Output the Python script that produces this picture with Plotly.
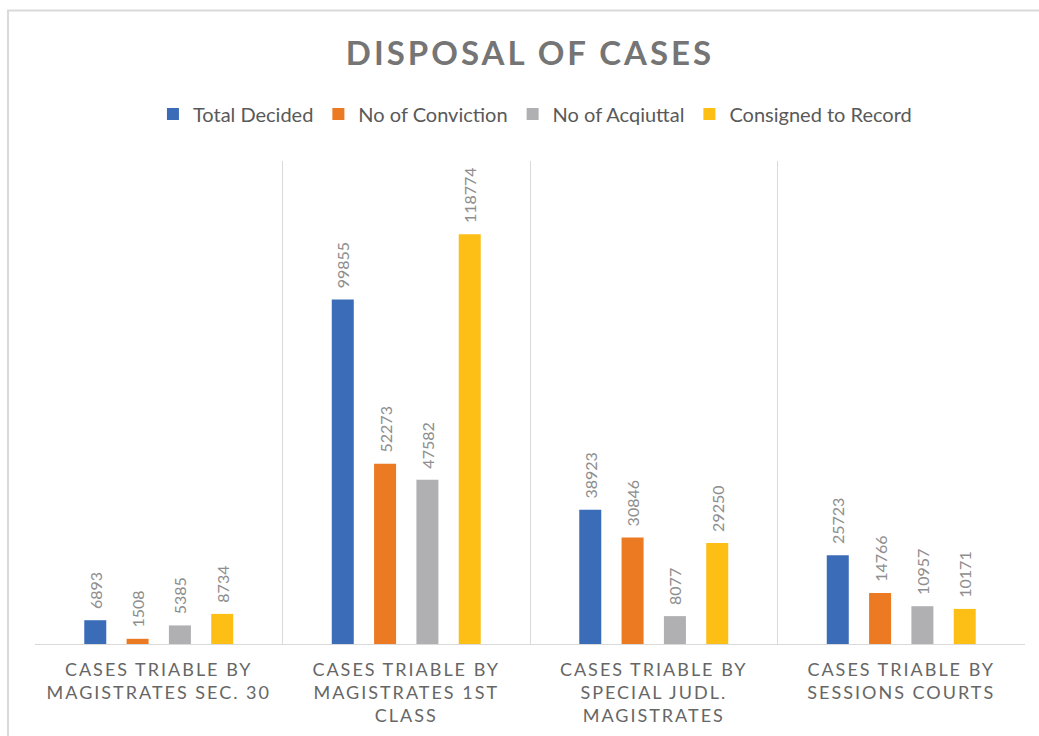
import plotly.graph_objects as go

categories = [
    "CASES TRIABLE BY<br>MAGISTRATES SEC. 30",
    "CASES TRIABLE BY<br>MAGISTRATES 1ST<br>CLASS",
    "CASES TRIABLE BY<br>SPECIAL JUDL.<br>MAGISTRATES",
    "CASES TRIABLE BY<br>SESSIONS COURTS",
]
series_names = ["Total Decided", "No of Conviction", "No of Acqiuttal", "Consigned to Record"]
total_decided = [6893, 99855, 38923, 25723]
no_of_conviction = [1508, 52273, 30846, 14766]
no_of_acquittal = [5385, 47582, 8077, 10957]
consigned_to_record = [8734, 118774, 29250, 10171]
colors = ["#3B6CB7", "#EC7A23", "#B0B0B3", "#FDBE15"]

series_values = [total_decided, no_of_conviction, no_of_acquittal, consigned_to_record]

fig = go.Figure()
for name, vals, col in zip(series_names, series_values, colors):
    fig.add_trace(go.Bar(
        name=name, x=categories, y=vals,
        marker=dict(color=col, line=dict(width=0)),
        text=[str(v) for v in vals],
        texttemplate="\u00a0\u00a0%{text}",
        textposition="outside", textangle=-90,
        constraintext="none", cliponaxis=False,
        textfont=dict(family="Lato", size=16, color="#8E8E8E"),
    ))

fig.update_layout(
    width=1039, height=736,
    margin=dict(l=35, r=14, t=161, b=92),
    paper_bgcolor="white", plot_bgcolor="white",
    barmode="group", bargap=0.316, bargroupgap=0.48,
    font=dict(family="Lato", color="#595959"),
    title=dict(text="<b>DISPOSAL OF CASES</b>", x=0.5, xref="paper",
               y=1 - 53 / 736, yref="container", yanchor="middle", xanchor="center",
               font=dict(family="Lato", size=33, color="#757575")),
    legend=dict(orientation="h", x=0.505, xanchor="center", xref="paper",
                y=1 - 114 / 736, yref="container", yanchor="middle",
                font=dict(family="Lato", size=20, color="#595959"),
                itemwidth=30, tracegroupgap=0),
    showlegend=True,
    xaxis=dict(type="category", tickson="boundaries", showgrid=True,
               gridcolor="#D9D9D9", gridwidth=1, showline=True, linecolor="#D9D9D9",
               linewidth=1, ticks="", tickangle=0, automargin=False,
               ticklabelstandoff=9,
               tickfont=dict(family="Lato", size=18, color="#666666")),
    yaxis=dict(range=[0, 140000], visible=False, showgrid=False, zeroline=False),
    shapes=[dict(type="rect", xref="paper", yref="paper",
                 x0=(8 - 35) / 990, x1=(1045 - 35) / 990,
                 y0=(644 - 745) / 483, y1=(644 - 10.5) / 483,
                 line=dict(color="#D9D9D9", width=2), fillcolor="rgba(0,0,0,0)",
                 layer="below")],
)

post = """
document.body.style.margin = '0';
var gd = document.getElementById('{plot_id}');
function sp(){
  gd.querySelectorAll('.xtick text').forEach(function(t){ t.style.letterSpacing='2px'; });
  gd.querySelectorAll('.gtitle').forEach(function(t){ t.style.letterSpacing='3px'; });
}
sp();
gd.on('plotly_afterplot', sp);
"""
fig.write_html("out.html", post_script=post, config={"displayModeBar": False})
